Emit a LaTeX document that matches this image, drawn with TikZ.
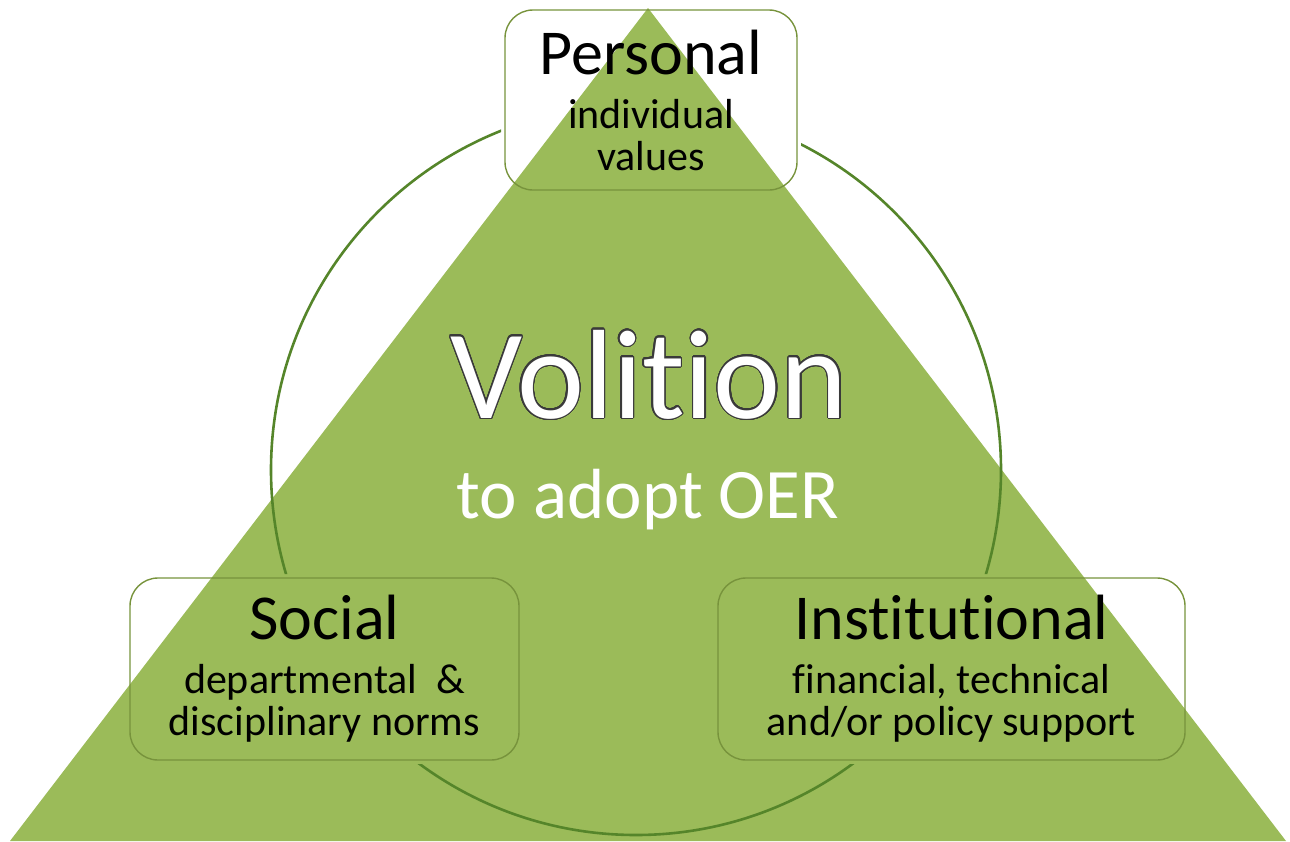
\documentclass[tikz,border=0pt]{standalone}
\usepackage{fontspec}
\setmainfont{Carlito}[RawFeature={-liga;-clig;-dlig;-calt}]
\usepackage[copies]{contour}
\usetikzlibrary{backgrounds}

\contourlength{0.65pt}
\contournumber{32}

\definecolor{leaf}{HTML}{9BBB59}
\definecolor{ring}{HTML}{55852A}
\definecolor{rim}{HTML}{77933C}
\definecolor{outl}{HTML}{3A3A3A}

\tikzset{
  catbox/.style={draw=rim, line width=0.7pt, rounded corners=14pt, align=center,
    inner sep=0pt, outer sep=2pt, font=\fontsize{21}{21}\selectfont},
  volword/.style={anchor=base, text=white, font=\fontsize{63.5}{63.5}\selectfont},
  subword/.style={anchor=base, text=white, font=\fontsize{35.5}{35.5}\selectfont}
}
\newcommand{\headline}[1]{{\fontsize{32}{32}\selectfont #1}\\[6pt]}

\begin{document}
\begin{tikzpicture}[x=0.5pt, y=-0.5pt]
  \useasboundingbox (0,0) rectangle (1290,841);
  \coordinate (apex) at (648,8);
  \coordinate (baseL) at (10,841);
  \coordinate (baseR) at (1286,841);

  % the three boxes
  \node[catbox, minimum width=146pt, minimum height=90pt] (personal) at (651,100)
    {\headline{Personal}individual\\values};
  \node[catbox, minimum width=194.5pt, minimum height=91pt] (social) at (324.5,669)
    {\headline{Social}departmental\ \ \&\\disciplinary norms};
  \node[catbox, minimum width=233.5pt, minimum height=91pt] (institutional) at (951.5,669)
    {\headline{Inst\kern0pt itut\kern0pt ional}financial, technical\\and/or policy support};

  % centre words
  \node[volword] (volition) at (649,418) {\contour{outl}{Volit\kern0pt ion}};
  \node[subword] (adopt) at (648,518) {to adopt OER};

  \begin{scope}[on background layer]
    \fill[leaf] (apex) -- (baseL) -- (baseR) -- cycle;
    % ring, cut out where the boxes are
    \begin{scope}
      \clip (-10,-10) rectangle (1300,850)
        foreach \b in {personal, social, institutional}{(\b.south west) rectangle (\b.north east)};
      \draw[ring, line width=1.3pt] (636,470) circle (365);
    \end{scope}
  \end{scope}
\end{tikzpicture}
\end{document}
